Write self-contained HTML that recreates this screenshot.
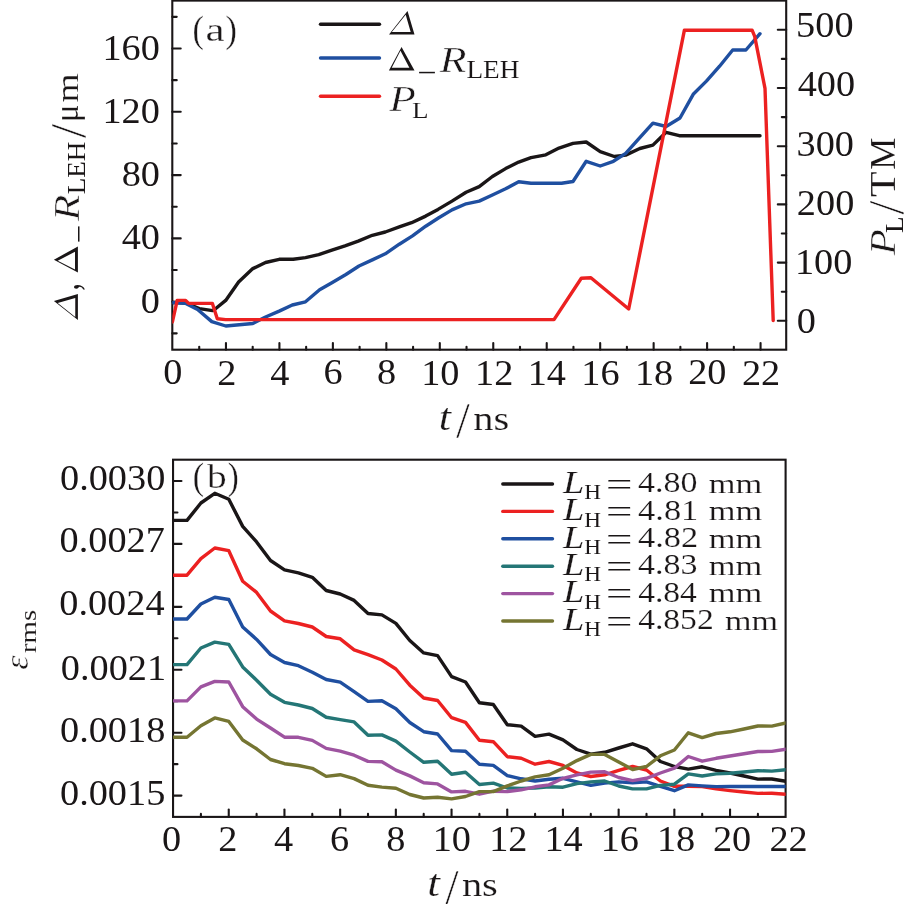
<!DOCTYPE html>
<html><head><meta charset="utf-8"><style>html,body{margin:0;padding:0;background:#fff;width:911px;height:904px;overflow:hidden}svg{display:block;will-change:transform}</style></head>
<body><svg width="911" height="904" viewBox="0 0 911 904" font-family='"Liberation Serif", serif'>
<defs><clipPath id="ca"><rect x="172.3" y="0" width="614" height="349.7"/></clipPath><clipPath id="cb"><rect x="173.05" y="459.7" width="612.55" height="357.2"/></clipPath></defs>
<rect width="911" height="904" fill="#fff"/>
<rect x="419.1" y="71.8" width="15.8" height="1.5" fill="#1a1617"/>
<rect x="78.0" y="226.4" width="1.5" height="15.2" fill="#1a1617"/>
<g fill="#1a1617" stroke="#fff">
<text transform="translate(102.48,59.70) scale(0.3830,0.3500)" font-size="100" stroke="none">160</text>
<text transform="translate(102.48,123.00) scale(0.3830,0.3500)" font-size="100" stroke="none">120</text>
<text transform="translate(121.63,186.03) scale(0.3830,0.3500)" font-size="100" stroke="none">80</text>
<text transform="translate(121.63,249.43) scale(0.3830,0.3500)" font-size="100" stroke="none">40</text>
<text transform="translate(140.78,312.82) scale(0.3830,0.3500)" font-size="100" stroke="none">0</text>
<text transform="translate(163.33,384.42) scale(0.3830,0.3500)" font-size="100" stroke="none">0</text>
<text transform="translate(217.15,384.77) scale(0.3830,0.3500)" font-size="100" stroke="none">2</text>
<text transform="translate(270.20,384.77) scale(0.3830,0.3500)" font-size="100" stroke="none">4</text>
<text transform="translate(323.45,384.42) scale(0.3830,0.3500)" font-size="100" stroke="none">6</text>
<text transform="translate(377.08,384.42) scale(0.3830,0.3500)" font-size="100" stroke="none">8</text>
<text transform="translate(421.19,384.60) scale(0.3830,0.3500)" font-size="100" stroke="none">10</text>
<text transform="translate(475.02,384.95) scale(0.3830,0.3500)" font-size="100" stroke="none">12</text>
<text transform="translate(527.69,384.95) scale(0.3830,0.3500)" font-size="100" stroke="none">14</text>
<text transform="translate(581.32,384.60) scale(0.3830,0.3500)" font-size="100" stroke="none">16</text>
<text transform="translate(634.95,384.60) scale(0.3830,0.3500)" font-size="100" stroke="none">18</text>
<text transform="translate(688.15,384.42) scale(0.3830,0.3500)" font-size="100" stroke="none">20</text>
<text transform="translate(741.97,384.77) scale(0.3830,0.3500)" font-size="100" stroke="none">22</text>
<text transform="translate(796.10,37.33) scale(0.3830,0.3500)" font-size="100" stroke="none">500</text>
<text transform="translate(797.63,96.43) scale(0.3830,0.3500)" font-size="100" stroke="none">400</text>
<text transform="translate(796.49,155.53) scale(0.3830,0.3500)" font-size="100" stroke="none">300</text>
<text transform="translate(796.87,214.62) scale(0.3830,0.3500)" font-size="100" stroke="none">200</text>
<text transform="translate(794.95,274.00) scale(0.3830,0.3500)" font-size="100" stroke="none">100</text>
<text transform="translate(796.87,333.02) scale(0.3830,0.3500)" font-size="100" stroke="none">0</text>
<text transform="translate(192.53,41.89) scale(0.3423,0.3767)" font-size="100" stroke-width="0.8">(</text>
<text transform="translate(205.38,41.27) scale(0.4308,0.3271)" font-size="100" stroke-width="0.8">a</text>
<text transform="translate(225.47,41.89) scale(0.3423,0.3767)" font-size="100" stroke-width="0.8">)</text>
<text transform="translate(439.60,71.50) scale(0.4424,0.3538)" font-size="100" stroke-width="1.4"><tspan font-style="italic">R</tspan></text>
<text transform="translate(466.38,78.40) scale(0.2725,0.2415)" font-size="100" stroke-width="0.4">LEH</text>
<text transform="translate(389.30,111.00) scale(0.4356,0.3477)" font-size="100" stroke-width="1.4"><tspan font-style="italic">P</tspan></text>
<text transform="translate(411.89,117.60) scale(0.2712,0.2369)" font-size="100" stroke-width="0.4">L</text>
<text transform="translate(77.82,290.47) rotate(-90) scale(0.2933,0.4120)" font-size="100" stroke="none">,</text>
<text transform="translate(78.50,220.90) rotate(-90) scale(0.4322,0.3569)" font-size="100" stroke-width="1.4"><tspan font-style="italic">R</tspan></text>
<text transform="translate(85.10,194.31) rotate(-90) scale(0.2704,0.2431)" font-size="100" stroke="none">LEH</text>
<text transform="translate(84.90,138.30) rotate(-90) scale(0.5214,0.4985)" font-size="100" stroke-width="1.4">/</text>
<text transform="translate(78.35,122.09) rotate(-90) scale(0.3238,0.3358)" font-size="100" stroke-width="0.6">μ</text>
<text transform="translate(77.90,102.45) rotate(-90) scale(0.3757,0.3191)" font-size="100" stroke-width="0.6">m</text>
<text transform="translate(894.70,255.30) rotate(-90) scale(0.4288,0.3477)" font-size="100" stroke-width="1.4"><tspan font-style="italic">P</tspan></text>
<text transform="translate(903.10,233.12) rotate(-90) scale(0.2731,0.2523)" font-size="100" stroke="none">L</text>
<text transform="translate(902.80,214.70) rotate(-90) scale(0.5179,0.5045)" font-size="100" stroke-width="1.4">/</text>
<text transform="translate(895.10,197.04) rotate(-90) scale(0.4193,0.3554)" font-size="100" stroke-width="0.5">T</text>
<text transform="translate(895.10,169.90) rotate(-90) scale(0.3651,0.3554)" font-size="100" stroke-width="0.5">M</text>
<text transform="translate(438.73,429.61) scale(0.4423,0.3860)" font-size="100" stroke-width="0.6"><tspan font-style="italic">t</tspan></text>
<text transform="translate(456.00,437.20) scale(0.5000,0.5030)" font-size="100" stroke-width="1.2">/</text>
<text transform="translate(473.19,429.67) scale(0.4048,0.3333)" font-size="100" stroke-width="0.6">ns</text>
<text transform="translate(60.01,489.52) scale(0.3830,0.3500)" font-size="100" stroke="none">0.0030</text>
<text transform="translate(59.62,552.42) scale(0.3830,0.3500)" font-size="100" stroke="none">0.0027</text>
<text transform="translate(59.24,615.42) scale(0.3830,0.3500)" font-size="100" stroke="none">0.0024</text>
<text transform="translate(60.77,679.60) scale(0.3830,0.3500)" font-size="100" stroke="none">0.0021</text>
<text transform="translate(60.01,742.20) scale(0.3830,0.3500)" font-size="100" stroke="none">0.0018</text>
<text transform="translate(60.01,805.00) scale(0.3830,0.3500)" font-size="100" stroke="none">0.0015</text>
<text transform="translate(161.93,850.73) scale(0.3830,0.3500)" font-size="100" stroke="none">0</text>
<text transform="translate(218.37,851.08) scale(0.3830,0.3500)" font-size="100" stroke="none">2</text>
<text transform="translate(274.05,851.08) scale(0.3830,0.3500)" font-size="100" stroke="none">4</text>
<text transform="translate(329.91,850.73) scale(0.3830,0.3500)" font-size="100" stroke="none">6</text>
<text transform="translate(386.17,850.73) scale(0.3830,0.3500)" font-size="100" stroke="none">8</text>
<text transform="translate(432.69,850.90) scale(0.3830,0.3500)" font-size="100" stroke="none">10</text>
<text transform="translate(489.14,851.25) scale(0.3830,0.3500)" font-size="100" stroke="none">12</text>
<text transform="translate(544.43,851.25) scale(0.3830,0.3500)" font-size="100" stroke="none">14</text>
<text transform="translate(600.68,850.90) scale(0.3830,0.3500)" font-size="100" stroke="none">16</text>
<text transform="translate(656.93,850.90) scale(0.3830,0.3500)" font-size="100" stroke="none">18</text>
<text transform="translate(712.95,850.73) scale(0.3830,0.3500)" font-size="100" stroke="none">20</text>
<text transform="translate(769.39,851.08) scale(0.3830,0.3500)" font-size="100" stroke="none">22</text>
<text transform="translate(192.83,488.89) scale(0.3423,0.3767)" font-size="100" stroke-width="0.8">(</text>
<text transform="translate(207.10,488.26) scale(0.3935,0.3386)" font-size="100" stroke-width="0.8">b</text>
<text transform="translate(227.81,488.89) scale(0.3308,0.3767)" font-size="100" stroke-width="0.8">)</text>
<text transform="translate(563.08,492.70) scale(0.3846,0.3123)" font-size="100" stroke-width="0.6"><tspan font-style="italic">L</tspan></text>
<text transform="translate(584.30,499.10) scale(0.2318,0.2169)" font-size="100" stroke="none">H</text>
<text transform="translate(605.63,495.86) scale(0.4745,0.3360)" font-size="100" stroke-width="0.6">=</text>
<text transform="translate(638.12,492.12) scale(0.3396,0.2910)" font-size="100" stroke-width="0.6">4.80</text>
<text transform="translate(708.71,492.70) scale(0.3441,0.2638)" font-size="100" stroke-width="0.6">mm</text>
<text transform="translate(563.08,520.10) scale(0.3846,0.3123)" font-size="100" stroke-width="0.6"><tspan font-style="italic">L</tspan></text>
<text transform="translate(584.30,526.50) scale(0.2318,0.2169)" font-size="100" stroke="none">H</text>
<text transform="translate(605.63,523.26) scale(0.4745,0.3360)" font-size="100" stroke-width="0.6">=</text>
<text transform="translate(638.11,519.53) scale(0.3437,0.2868)" font-size="100" stroke-width="0.6">4.81</text>
<text transform="translate(708.71,520.10) scale(0.3441,0.2638)" font-size="100" stroke-width="0.6">mm</text>
<text transform="translate(563.08,547.50) scale(0.3846,0.3123)" font-size="100" stroke-width="0.6"><tspan font-style="italic">L</tspan></text>
<text transform="translate(584.30,553.90) scale(0.2318,0.2169)" font-size="100" stroke="none">H</text>
<text transform="translate(605.63,550.66) scale(0.4745,0.3360)" font-size="100" stroke-width="0.6">=</text>
<text transform="translate(638.11,546.92) scale(0.3437,0.2910)" font-size="100" stroke-width="0.6">4.82</text>
<text transform="translate(708.71,547.50) scale(0.3441,0.2638)" font-size="100" stroke-width="0.6">mm</text>
<text transform="translate(563.08,574.90) scale(0.3846,0.3123)" font-size="100" stroke-width="0.6"><tspan font-style="italic">L</tspan></text>
<text transform="translate(584.30,581.30) scale(0.2318,0.2169)" font-size="100" stroke="none">H</text>
<text transform="translate(605.63,578.06) scale(0.4745,0.3360)" font-size="100" stroke-width="0.6">=</text>
<text transform="translate(638.12,574.32) scale(0.3396,0.2910)" font-size="100" stroke-width="0.6">4.83</text>
<text transform="translate(708.71,574.90) scale(0.3441,0.2638)" font-size="100" stroke-width="0.6">mm</text>
<text transform="translate(563.08,602.30) scale(0.3846,0.3123)" font-size="100" stroke-width="0.6"><tspan font-style="italic">L</tspan></text>
<text transform="translate(584.30,608.70) scale(0.2318,0.2169)" font-size="100" stroke="none">H</text>
<text transform="translate(605.63,605.46) scale(0.4745,0.3360)" font-size="100" stroke-width="0.6">=</text>
<text transform="translate(638.13,601.72) scale(0.3357,0.2910)" font-size="100" stroke-width="0.6">4.84</text>
<text transform="translate(708.71,602.30) scale(0.3441,0.2638)" font-size="100" stroke-width="0.6">mm</text>
<text transform="translate(563.08,629.70) scale(0.3846,0.3123)" font-size="100" stroke-width="0.6"><tspan font-style="italic">L</tspan></text>
<text transform="translate(584.30,636.10) scale(0.2318,0.2169)" font-size="100" stroke="none">H</text>
<text transform="translate(605.63,632.86) scale(0.4745,0.3360)" font-size="100" stroke-width="0.6">=</text>
<text transform="translate(638.13,629.12) scale(0.3359,0.2910)" font-size="100" stroke-width="0.6">4.852</text>
<text transform="translate(725.02,629.70) scale(0.3408,0.2638)" font-size="100" stroke-width="0.6">mm</text>
<text transform="translate(28.17,669.72) rotate(-90) scale(0.3595,0.3312)" font-size="100" stroke-width="1.4"><tspan font-style="italic">ε</tspan></text>
<text transform="translate(35.66,652.98) rotate(-90) scale(0.2875,0.2354)" font-size="100" stroke-width="0.4">rms</text>
<text transform="translate(427.27,895.73) scale(0.4577,0.3702)" font-size="100" stroke-width="0.6"><tspan font-style="italic">t</tspan></text>
<text transform="translate(444.90,903.99) scale(0.4929,0.5076)" font-size="100" stroke-width="1.2">/</text>
<text transform="translate(461.89,895.77) scale(0.4048,0.3292)" font-size="100" stroke-width="0.6">ns</text>
</g>
<path d="M407.54,10.90 L389.00,34.60 L414.50,34.60 Z M405.70,14.69 L391.81,31.99 L410.68,31.99 Z" fill="#1a1617" fill-rule="evenodd"/>
<path d="M401.55,47.00 L388.90,70.60 L414.50,70.60 Z M400.47,50.78 L391.72,67.77 L409.38,67.77 Z" fill="#1a1617" fill-rule="evenodd"/>
<path d="M53.90,301.07 L77.90,319.90 L77.90,294.00 Z M57.74,302.94 L75.26,317.05 L75.26,297.88 Z" fill="#1a1617" fill-rule="evenodd"/>
<path d="M53.90,259.65 L77.90,272.40 L77.90,246.60 Z M57.74,260.74 L75.02,269.56 L75.02,251.76 Z" fill="#1a1617" fill-rule="evenodd"/>
<rect x="172.3" y="0.6" width="613.90" height="349.10" fill="none" stroke="#1a1617" stroke-width="2.1"/>
<line x1="172.30" y1="301.70" x2="180.70" y2="301.70" stroke="#1a1617" stroke-width="2.1" stroke-linecap="round"/>
<line x1="172.30" y1="238.40" x2="180.70" y2="238.40" stroke="#1a1617" stroke-width="2.1" stroke-linecap="round"/>
<line x1="172.30" y1="175.10" x2="180.70" y2="175.10" stroke="#1a1617" stroke-width="2.1" stroke-linecap="round"/>
<line x1="172.30" y1="111.80" x2="180.70" y2="111.80" stroke="#1a1617" stroke-width="2.1" stroke-linecap="round"/>
<line x1="172.30" y1="48.50" x2="180.70" y2="48.50" stroke="#1a1617" stroke-width="2.1" stroke-linecap="round"/>
<line x1="172.30" y1="333.35" x2="176.70" y2="333.35" stroke="#1a1617" stroke-width="2.1" stroke-linecap="round"/>
<line x1="172.30" y1="270.05" x2="176.70" y2="270.05" stroke="#1a1617" stroke-width="2.1" stroke-linecap="round"/>
<line x1="172.30" y1="206.75" x2="176.70" y2="206.75" stroke="#1a1617" stroke-width="2.1" stroke-linecap="round"/>
<line x1="172.30" y1="143.45" x2="176.70" y2="143.45" stroke="#1a1617" stroke-width="2.1" stroke-linecap="round"/>
<line x1="172.30" y1="80.15" x2="176.70" y2="80.15" stroke="#1a1617" stroke-width="2.1" stroke-linecap="round"/>
<line x1="172.30" y1="16.85" x2="176.70" y2="16.85" stroke="#1a1617" stroke-width="2.1" stroke-linecap="round"/>
<line x1="199.23" y1="349.70" x2="199.23" y2="346.80" stroke="#1a1617" stroke-width="2.1" stroke-linecap="round"/>
<line x1="225.96" y1="349.70" x2="225.96" y2="343.10" stroke="#1a1617" stroke-width="2.1" stroke-linecap="round"/>
<line x1="252.69" y1="349.70" x2="252.69" y2="346.80" stroke="#1a1617" stroke-width="2.1" stroke-linecap="round"/>
<line x1="279.42" y1="349.70" x2="279.42" y2="343.10" stroke="#1a1617" stroke-width="2.1" stroke-linecap="round"/>
<line x1="306.15" y1="349.70" x2="306.15" y2="346.80" stroke="#1a1617" stroke-width="2.1" stroke-linecap="round"/>
<line x1="332.88" y1="349.70" x2="332.88" y2="343.10" stroke="#1a1617" stroke-width="2.1" stroke-linecap="round"/>
<line x1="359.61" y1="349.70" x2="359.61" y2="346.80" stroke="#1a1617" stroke-width="2.1" stroke-linecap="round"/>
<line x1="386.34" y1="349.70" x2="386.34" y2="343.10" stroke="#1a1617" stroke-width="2.1" stroke-linecap="round"/>
<line x1="413.07" y1="349.70" x2="413.07" y2="346.80" stroke="#1a1617" stroke-width="2.1" stroke-linecap="round"/>
<line x1="439.80" y1="349.70" x2="439.80" y2="343.10" stroke="#1a1617" stroke-width="2.1" stroke-linecap="round"/>
<line x1="466.53" y1="349.70" x2="466.53" y2="346.80" stroke="#1a1617" stroke-width="2.1" stroke-linecap="round"/>
<line x1="493.26" y1="349.70" x2="493.26" y2="343.10" stroke="#1a1617" stroke-width="2.1" stroke-linecap="round"/>
<line x1="519.99" y1="349.70" x2="519.99" y2="346.80" stroke="#1a1617" stroke-width="2.1" stroke-linecap="round"/>
<line x1="546.72" y1="349.70" x2="546.72" y2="343.10" stroke="#1a1617" stroke-width="2.1" stroke-linecap="round"/>
<line x1="573.45" y1="349.70" x2="573.45" y2="346.80" stroke="#1a1617" stroke-width="2.1" stroke-linecap="round"/>
<line x1="600.18" y1="349.70" x2="600.18" y2="343.10" stroke="#1a1617" stroke-width="2.1" stroke-linecap="round"/>
<line x1="626.91" y1="349.70" x2="626.91" y2="346.80" stroke="#1a1617" stroke-width="2.1" stroke-linecap="round"/>
<line x1="653.64" y1="349.70" x2="653.64" y2="343.10" stroke="#1a1617" stroke-width="2.1" stroke-linecap="round"/>
<line x1="680.37" y1="349.70" x2="680.37" y2="346.80" stroke="#1a1617" stroke-width="2.1" stroke-linecap="round"/>
<line x1="707.10" y1="349.70" x2="707.10" y2="343.10" stroke="#1a1617" stroke-width="2.1" stroke-linecap="round"/>
<line x1="733.83" y1="349.70" x2="733.83" y2="346.80" stroke="#1a1617" stroke-width="2.1" stroke-linecap="round"/>
<line x1="760.56" y1="349.70" x2="760.56" y2="343.10" stroke="#1a1617" stroke-width="2.1" stroke-linecap="round"/>
<line x1="786.20" y1="320.80" x2="777.80" y2="320.80" stroke="#1a1617" stroke-width="2.1" stroke-linecap="round"/>
<line x1="786.20" y1="262.60" x2="777.80" y2="262.60" stroke="#1a1617" stroke-width="2.1" stroke-linecap="round"/>
<line x1="786.20" y1="204.40" x2="777.80" y2="204.40" stroke="#1a1617" stroke-width="2.1" stroke-linecap="round"/>
<line x1="786.20" y1="146.20" x2="777.80" y2="146.20" stroke="#1a1617" stroke-width="2.1" stroke-linecap="round"/>
<line x1="786.20" y1="88.00" x2="777.80" y2="88.00" stroke="#1a1617" stroke-width="2.1" stroke-linecap="round"/>
<line x1="786.20" y1="29.80" x2="777.80" y2="29.80" stroke="#1a1617" stroke-width="2.1" stroke-linecap="round"/>
<line x1="786.20" y1="291.70" x2="781.80" y2="291.70" stroke="#1a1617" stroke-width="2.1" stroke-linecap="round"/>
<line x1="786.20" y1="233.50" x2="781.80" y2="233.50" stroke="#1a1617" stroke-width="2.1" stroke-linecap="round"/>
<line x1="786.20" y1="175.30" x2="781.80" y2="175.30" stroke="#1a1617" stroke-width="2.1" stroke-linecap="round"/>
<line x1="786.20" y1="117.10" x2="781.80" y2="117.10" stroke="#1a1617" stroke-width="2.1" stroke-linecap="round"/>
<line x1="786.20" y1="58.90" x2="781.80" y2="58.90" stroke="#1a1617" stroke-width="2.1" stroke-linecap="round"/>
<rect x="173.05" y="459.7" width="612.55" height="357.20" fill="none" stroke="#1a1617" stroke-width="2.1"/>
<line x1="173.05" y1="795.60" x2="181.45" y2="795.60" stroke="#1a1617" stroke-width="2.1" stroke-linecap="round"/>
<line x1="173.05" y1="732.68" x2="181.45" y2="732.68" stroke="#1a1617" stroke-width="2.1" stroke-linecap="round"/>
<line x1="173.05" y1="669.76" x2="181.45" y2="669.76" stroke="#1a1617" stroke-width="2.1" stroke-linecap="round"/>
<line x1="173.05" y1="606.84" x2="181.45" y2="606.84" stroke="#1a1617" stroke-width="2.1" stroke-linecap="round"/>
<line x1="173.05" y1="543.92" x2="181.45" y2="543.92" stroke="#1a1617" stroke-width="2.1" stroke-linecap="round"/>
<line x1="173.05" y1="481.00" x2="181.45" y2="481.00" stroke="#1a1617" stroke-width="2.1" stroke-linecap="round"/>
<line x1="173.05" y1="764.14" x2="177.45" y2="764.14" stroke="#1a1617" stroke-width="2.1" stroke-linecap="round"/>
<line x1="173.05" y1="701.22" x2="177.45" y2="701.22" stroke="#1a1617" stroke-width="2.1" stroke-linecap="round"/>
<line x1="173.05" y1="638.30" x2="177.45" y2="638.30" stroke="#1a1617" stroke-width="2.1" stroke-linecap="round"/>
<line x1="173.05" y1="575.38" x2="177.45" y2="575.38" stroke="#1a1617" stroke-width="2.1" stroke-linecap="round"/>
<line x1="173.05" y1="512.46" x2="177.45" y2="512.46" stroke="#1a1617" stroke-width="2.1" stroke-linecap="round"/>
<line x1="200.90" y1="816.90" x2="200.90" y2="813.90" stroke="#1a1617" stroke-width="2.1" stroke-linecap="round"/>
<line x1="228.75" y1="816.90" x2="228.75" y2="809.60" stroke="#1a1617" stroke-width="2.1" stroke-linecap="round"/>
<line x1="256.60" y1="816.90" x2="256.60" y2="813.90" stroke="#1a1617" stroke-width="2.1" stroke-linecap="round"/>
<line x1="284.45" y1="816.90" x2="284.45" y2="809.60" stroke="#1a1617" stroke-width="2.1" stroke-linecap="round"/>
<line x1="312.30" y1="816.90" x2="312.30" y2="813.90" stroke="#1a1617" stroke-width="2.1" stroke-linecap="round"/>
<line x1="340.15" y1="816.90" x2="340.15" y2="809.60" stroke="#1a1617" stroke-width="2.1" stroke-linecap="round"/>
<line x1="368.00" y1="816.90" x2="368.00" y2="813.90" stroke="#1a1617" stroke-width="2.1" stroke-linecap="round"/>
<line x1="395.85" y1="816.90" x2="395.85" y2="809.60" stroke="#1a1617" stroke-width="2.1" stroke-linecap="round"/>
<line x1="423.70" y1="816.90" x2="423.70" y2="813.90" stroke="#1a1617" stroke-width="2.1" stroke-linecap="round"/>
<line x1="451.55" y1="816.90" x2="451.55" y2="809.60" stroke="#1a1617" stroke-width="2.1" stroke-linecap="round"/>
<line x1="479.40" y1="816.90" x2="479.40" y2="813.90" stroke="#1a1617" stroke-width="2.1" stroke-linecap="round"/>
<line x1="507.25" y1="816.90" x2="507.25" y2="809.60" stroke="#1a1617" stroke-width="2.1" stroke-linecap="round"/>
<line x1="535.10" y1="816.90" x2="535.10" y2="813.90" stroke="#1a1617" stroke-width="2.1" stroke-linecap="round"/>
<line x1="562.95" y1="816.90" x2="562.95" y2="809.60" stroke="#1a1617" stroke-width="2.1" stroke-linecap="round"/>
<line x1="590.80" y1="816.90" x2="590.80" y2="813.90" stroke="#1a1617" stroke-width="2.1" stroke-linecap="round"/>
<line x1="618.65" y1="816.90" x2="618.65" y2="809.60" stroke="#1a1617" stroke-width="2.1" stroke-linecap="round"/>
<line x1="646.50" y1="816.90" x2="646.50" y2="813.90" stroke="#1a1617" stroke-width="2.1" stroke-linecap="round"/>
<line x1="674.35" y1="816.90" x2="674.35" y2="809.60" stroke="#1a1617" stroke-width="2.1" stroke-linecap="round"/>
<line x1="702.20" y1="816.90" x2="702.20" y2="813.90" stroke="#1a1617" stroke-width="2.1" stroke-linecap="round"/>
<line x1="730.05" y1="816.90" x2="730.05" y2="809.60" stroke="#1a1617" stroke-width="2.1" stroke-linecap="round"/>
<line x1="757.90" y1="816.90" x2="757.90" y2="813.90" stroke="#1a1617" stroke-width="2.1" stroke-linecap="round"/>
<g clip-path="url(#ca)">
<polyline points="172.5,302.5 185.9,303.0 199.3,308.6 212.6,310.6 215.8,308.5 225.7,300.4 238.6,282.0 252.8,268.6 265.5,262.5 279.2,259.3 293.2,259.3 305.5,257.6 318.7,254.6 331.9,250.2 345.0,245.9 358.2,241.1 372.3,235.3 385.3,232.0 399.3,226.9 411.6,222.7 425.7,216.1 438.0,209.4 452.0,201.1 466.1,192.3 479.2,186.6 492.4,176.5 505.6,168.6 518.7,162.1 531.0,157.7 545.8,154.8 559.0,148.1 573.0,143.4 586.2,142.0 600.2,151.6 614.3,156.5 625.7,155.1 639.8,148.5 652.9,145.1 666.1,132.3 679.3,135.7 760.0,135.7" fill="none" stroke="#1a1617" stroke-width="3.4" stroke-linejoin="round" stroke-linecap="round"/>
<polyline points="172.5,302.6 185.3,303.2 197.6,309.5 211.8,321.6 225.8,326.0 239.3,324.8 252.8,323.5 265.0,317.3 279.2,311.1 292.3,305.0 305.5,301.8 319.6,289.8 331.9,282.7 345.9,274.5 359.0,266.0 372.3,259.9 385.3,253.8 399.3,244.2 412.5,235.9 425.7,226.2 438.8,217.8 452.0,209.9 466.1,203.8 479.2,201.1 492.4,195.0 505.6,188.8 518.7,181.8 531.0,183.2 561.6,183.2 573.0,181.5 586.2,161.3 600.2,166.0 613.4,161.3 625.7,153.4 639.8,137.6 652.9,123.2 666.1,126.5 680.0,118.0 693.2,94.3 706.4,81.1 719.6,66.2 732.7,50.0 745.9,50.0 760.0,33.7" fill="none" stroke="#1f4fa0" stroke-width="3.4" stroke-linejoin="round" stroke-linecap="round"/>
<polyline points="172.4,321.9 177.2,300.4 185.6,300.4 188.6,303.4 212.4,303.4 217.3,318.7 225.7,319.6 554.0,319.6 581.3,278.3 590.9,277.8 628.7,309.0 684.4,30.2 752.1,30.2 754.7,36.3 765.0,88.3 773.2,320.5" fill="none" stroke="#ec2121" stroke-width="3.4" stroke-linejoin="round" stroke-linecap="round"/>
</g><g clip-path="url(#cb)">
<polyline points="173.1,520.4 187.0,520.4 200.9,503.0 214.8,493.3 228.8,499.3 242.7,526.4 256.6,541.9 270.5,560.5 284.5,569.9 298.4,572.9 312.3,577.3 326.2,590.5 340.2,594.0 354.1,600.4 368.0,613.5 381.9,614.9 395.9,623.4 409.8,640.5 423.7,652.9 437.6,655.6 451.6,676.6 465.5,682.0 479.4,702.7 493.3,704.5 507.3,724.7 521.2,726.1 535.1,736.4 549.0,734.1 563.0,739.9 576.9,749.5 590.8,754.1 604.7,752.3 618.7,748.0 632.6,743.8 646.5,748.8 660.4,761.5 674.4,766.5 688.3,769.1 702.2,766.8 716.1,770.4 730.0,773.0 744.0,776.0 757.9,779.1 771.8,779.0 785.8,781.3" fill="none" stroke="#1a1617" stroke-width="3.4" stroke-linejoin="round" stroke-linecap="round"/>
<polyline points="173.1,575.2 187.0,575.2 200.9,558.7 214.8,548.0 228.8,550.7 242.7,581.2 256.6,592.4 270.5,611.0 284.5,620.8 298.4,623.5 312.3,627.0 326.2,636.5 340.2,638.8 354.1,649.9 368.0,654.7 381.9,660.0 395.9,669.0 409.8,685.2 423.7,698.0 437.6,700.5 451.6,717.7 465.5,722.4 479.4,740.3 493.3,741.7 507.3,756.7 521.2,758.3 535.1,764.2 549.0,761.5 563.0,765.4 576.9,773.0 590.8,776.5 604.7,774.8 618.7,770.4 632.6,766.5 646.5,770.0 660.4,781.0 674.4,786.3 688.3,786.3 702.2,786.6 716.1,788.9 730.0,790.6 744.0,792.0 757.9,793.4 771.8,793.2 785.8,794.2" fill="none" stroke="#ec2121" stroke-width="3.4" stroke-linejoin="round" stroke-linecap="round"/>
<polyline points="173.1,619.0 187.0,619.0 200.9,604.0 214.8,597.2 228.8,599.5 242.7,627.0 256.6,639.4 270.5,654.5 284.5,662.5 298.4,665.7 312.3,672.2 326.2,679.5 340.2,682.1 354.1,691.6 368.0,701.4 381.9,700.7 395.9,708.7 409.8,722.5 423.7,731.7 437.6,734.0 451.6,750.6 465.5,751.3 479.4,764.2 493.3,765.4 507.3,775.7 521.2,778.8 535.1,781.0 549.0,779.2 563.0,778.3 576.9,781.9 590.8,785.4 604.7,783.1 618.7,781.9 632.6,782.7 646.5,781.9 660.4,786.3 674.4,790.7 688.3,784.9 702.2,785.9 716.1,786.6 730.0,786.5 744.0,786.5 757.9,786.5 771.8,786.5 785.8,786.5" fill="none" stroke="#1f4fa0" stroke-width="3.4" stroke-linejoin="round" stroke-linecap="round"/>
<polyline points="173.1,664.6 187.0,664.6 200.9,648.0 214.8,642.1 228.8,644.4 242.7,666.9 256.6,680.2 270.5,694.3 284.5,702.3 298.4,705.0 312.3,708.5 326.2,717.3 340.2,719.6 354.1,721.9 368.0,735.2 381.9,734.9 395.9,741.1 409.8,752.0 423.7,762.3 437.6,761.2 451.6,774.2 465.5,772.2 479.4,784.5 493.3,783.1 507.3,788.0 521.2,788.4 535.1,788.0 549.0,786.8 563.0,787.2 576.9,783.6 590.8,781.9 604.7,781.0 618.7,786.0 632.6,788.9 646.5,788.9 660.4,785.4 674.4,784.2 688.3,773.9 702.2,776.0 716.1,773.9 730.0,773.3 744.0,772.0 757.9,770.7 771.8,771.1 785.8,769.7" fill="none" stroke="#247676" stroke-width="3.4" stroke-linejoin="round" stroke-linecap="round"/>
<polyline points="173.1,700.9 187.0,700.9 200.9,686.9 214.8,681.4 228.8,682.0 242.7,706.7 256.6,719.1 270.5,728.0 284.5,737.2 298.4,737.3 312.3,740.4 326.2,748.4 340.2,751.2 354.1,755.2 368.0,761.4 381.9,761.8 395.9,770.1 409.8,775.9 423.7,782.7 437.6,783.9 451.6,791.9 465.5,791.3 479.4,794.2 493.3,791.2 507.3,791.6 521.2,789.8 535.1,786.8 549.0,784.9 563.0,778.3 576.9,774.8 590.8,772.1 604.7,771.8 618.7,777.5 632.6,780.6 646.5,778.3 660.4,773.0 674.4,768.2 688.3,756.5 702.2,761.2 716.1,758.3 730.0,756.0 744.0,753.8 757.9,751.5 771.8,751.4 785.8,749.2" fill="none" stroke="#9e54a0" stroke-width="3.4" stroke-linejoin="round" stroke-linecap="round"/>
<polyline points="173.1,737.3 187.0,737.3 200.9,725.8 214.8,717.9 228.8,721.4 242.7,740.0 256.6,748.8 270.5,759.5 284.5,763.7 298.4,765.5 312.3,768.3 326.2,776.4 340.2,774.7 354.1,778.6 368.0,785.3 381.9,787.1 395.9,788.3 409.8,794.5 423.7,798.0 437.6,797.2 451.6,798.9 465.5,796.5 479.4,791.6 493.3,791.6 507.3,785.9 521.2,781.0 535.1,776.9 549.0,774.8 563.0,768.2 576.9,760.6 590.8,754.4 604.7,754.4 618.7,762.0 632.6,769.5 646.5,766.5 660.4,755.8 674.4,750.0 688.3,732.8 702.2,737.6 716.1,733.5 730.0,731.8 744.0,729.0 757.9,726.0 771.8,726.1 785.8,723.0" fill="none" stroke="#757532" stroke-width="3.4" stroke-linejoin="round" stroke-linecap="round"/>
</g>
<line x1="320.5" y1="24.3" x2="379.5" y2="24.3" stroke="#1a1617" stroke-width="3.4" stroke-linecap="round"/>
<line x1="320.5" y1="58.0" x2="379.5" y2="58.0" stroke="#1f4fa0" stroke-width="3.4" stroke-linecap="round"/>
<line x1="320.5" y1="96.3" x2="379.5" y2="96.3" stroke="#ec2121" stroke-width="3.4" stroke-linecap="round"/>
<line x1="502.8" y1="484.0" x2="552.5" y2="484.0" stroke="#1a1617" stroke-width="3.4" stroke-linecap="round"/>
<line x1="502.8" y1="511.4" x2="552.5" y2="511.4" stroke="#ec2121" stroke-width="3.4" stroke-linecap="round"/>
<line x1="502.8" y1="538.8" x2="552.5" y2="538.8" stroke="#1f4fa0" stroke-width="3.4" stroke-linecap="round"/>
<line x1="502.8" y1="566.2" x2="552.5" y2="566.2" stroke="#247676" stroke-width="3.4" stroke-linecap="round"/>
<line x1="502.8" y1="593.6" x2="552.5" y2="593.6" stroke="#9e54a0" stroke-width="3.4" stroke-linecap="round"/>
<line x1="502.8" y1="621.0" x2="552.5" y2="621.0" stroke="#757532" stroke-width="3.4" stroke-linecap="round"/>
</svg></body></html>
